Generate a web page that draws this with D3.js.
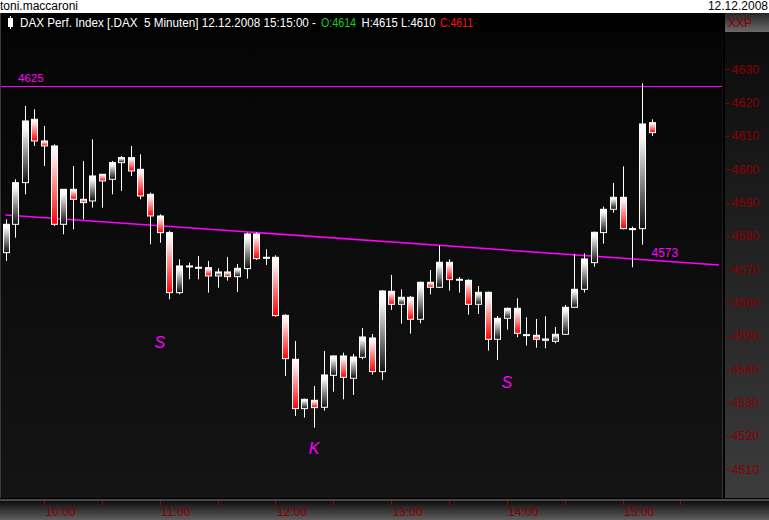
<!DOCTYPE html>
<html>
<head>
<meta charset="utf-8">
<script src="https://cdn.jsdelivr.net/npm/d3@7"></script>
<style>
  html, body { margin: 0; padding: 0; background: #fff; }
  svg { display: block; }
  text { font-family: "Liberation Sans", Arial, sans-serif; }
</style>
</head>
<body>
<svg id="chart" width="769" height="520"></svg>
<script>
// ---------------- DATA ----------------
const startTime = "09:40";          // first 5-minute candle
const stepMinutes = 5;
const opens  = [4575,4583.5,4596,4615,4608.5,4607,4583.5,4594,4591,4590.5,4598.5,4597,4602,4603.5,4600,4592.5,4586,4581,4563,4571,
                4570.6,4570.5,4568,4569.2,4567.8,4570.2,4580.6,4573.4,4573.6,4556.2,4543,4528.2,4530.7,4528.6,4538.2,4544,4537.3,4543.6,4549.4,4539.3,
                4563.4,4559.5,4561.6,4555,4566.1,4564.6,4572.1,4567,4566.7,4559.5,4563.1,4549,4555.3,4558.3,4550.4,4550.2,4549.1,4548.4,4550.5,4558.6,
                4564,4572,4581,4588,4591.6,4582.2,4582.2,4614];
const highs  = [4585,4597,4619,4618,4613,4607.5,4594,4601,4602.5,4609,4598.5,4602.5,4604,4607,4604.5,4593,4586.5,4581.5,4573,4572,
                4574,4572.5,4570.3,4573.7,4571.6,4581,4581.1,4576,4574.2,4556.5,4548.5,4531.2,4535,4545.5,4544.2,4545,4544.6,4552.4,4550.6,4563.8,
                4568.3,4564,4562,4566.3,4569.8,4577.1,4573,4567.7,4567,4565,4563.3,4556,4558.5,4561.3,4555.6,4555.1,4555.9,4552.7,4559.3,4574.5,
                4574.8,4581.3,4588.8,4595.9,4600.9,4582.8,4625.8,4615];
const lows   = [4572.5,4579.5,4592.5,4607,4601,4583,4580.5,4582,4585,4588.5,4588.5,4592.5,4593.5,4598,4591,4577.5,4578,4561,4562.5,4567,
                4567,4563,4564.5,4566.6,4563.2,4567.2,4572.8,4571.3,4555.8,4538,4526,4525.5,4522.5,4527.6,4533.3,4531,4532.3,4543,4538.4,4536.8,
                4557.8,4553.7,4550.7,4553.8,4562.5,4564.4,4563.6,4563,4556.4,4556.6,4545.6,4542.8,4551.9,4549.6,4547.1,4546.5,4546.3,4547.8,4550.3,4558.4,
                4563,4570.8,4577.7,4587,4582,4570.6,4577.4,4610];
const closes = [4583.5,4596,4614.5,4608.5,4607,4583.5,4594,4591,4590,4598,4596.5,4602,4603.5,4599.5,4592,4586,4581,4563,4571,4570.7,
                4570.4,4568,4569.2,4567.8,4570.3,4580.6,4573.2,4573.6,4556.1,4543.2,4528.2,4531,4528.5,4538.3,4544,4537.6,4543.7,4549.7,4539.3,4563.5,
                4559.5,4561.6,4555,4566.1,4564.6,4572.1,4566.9,4566.8,4559.5,4563.1,4549,4555.3,4558.3,4550.8,4550.2,4549,4548.7,4550.5,4558.6,4564,
                4573.1,4581.1,4588,4591.6,4582.2,4582,4613.6,4611];

const yTicks = [4510,4520,4530,4540,4550,4560,4570,4580,4590,4600,4610,4620,4630];
const xTickTimes = ["10:00","10:30","11:00","11:30","12:00","12:30","13:00","13:30","14:00","14:30","15:00","15:30"];
const xLabelTimes = ["10:00","11:00","12:00","13:00","14:00","15:00"];

const hLineValue = 4625;
const trendTimes = ["09:40","15:50"];
const trendValues = [4586.3,4571.3];
const trendLabel = "4573";
const trendLabelTime = "15:15";

const annotations = [
  {text:"S", time:"11:00", value:4546.4},
  {text:"K", time:"12:20", value:4514.6},
  {text:"S", time:"14:00", value:4534.4}
];

const header = {
  user: "toni.maccaroni",
  date: "12.12.2008",
  title: "DAX Perf. Index [.DAX  5 Minuten] 12.12.2008 15:15:00 -",
  o: "O:4614", h: "H:4615 L:4610", c: "C:4611"
};

// ---------------- SETUP ----------------
const W = 769, H = 520;
const plotL = 1, plotR = 722, plotT = 32, plotB = 498;
const svg = d3.select("#chart");
const defs = svg.append("defs");

const parseT = d3.timeParse("%H:%M");
const t0 = parseT(startTime);
const times = opens.map((_, i) => d3.timeMinute.offset(t0, i * stepMinutes));
const candles = opens.map((o, i) => ({t: times[i], o, h: highs[i], l: lows[i], c: closes[i]}));

const x = d3.scaleTime().domain([times[0], times[times.length - 1]]).range([5.5, 651.5]);
const y = d3.scaleLinear().domain([4630, 4510]).range([69.3, 469.3]);

function lin(id, stops) {
  const g = defs.append("linearGradient").attr("id", id)
    .attr("x1", 0).attr("y1", 0).attr("x2", 0).attr("y2", 1);
  stops.forEach(([o, c]) => g.append("stop").attr("offset", o).attr("stop-color", c));
}
lin("gPlot", [[0, "#050505"], [1, "#141414"]]);
lin("gRight", [[0, "#0b0b0b"], [0.5, "#232323"], [1, "#3c3c3c"]]);
lin("gBottom", [[0, "#0e0e0e"], [1, "#5e5e5e"]]);
lin("gXXP", [[0, "#262626"], [1, "#6a6a6a"]]);
lin("gUp", [[0, "#ffffff"], [0.15, "#f4f4f0"], [1, "#101010"]]);
lin("gDown", [[0, "#ffffff"], [0.15, "#ffe8e8"], [1, "#ff0000"]]);

const clip = defs.append("clipPath").attr("id", "plotClip");
clip.append("rect").attr("x", plotL).attr("y", plotT).attr("width", plotR - plotL).attr("height", plotB - plotT);

// ---------------- BACKGROUNDS ----------------
svg.append("rect").attr("x", 0).attr("y", 0).attr("width", W).attr("height", H).attr("fill", "#fff");
svg.append("rect").attr("x", 0).attr("y", 13).attr("width", W).attr("height", 20).attr("fill", "#000");
svg.append("rect").attr("x", 0).attr("y", plotT).attr("width", plotR).attr("height", plotB - plotT).attr("fill", "url(#gPlot)");
svg.append("line").attr("x1", 0.5).attr("x2", 0.5).attr("y1", 13).attr("y2", plotB).attr("stroke", "#3a3a3a");
// right axis panel
svg.append("rect").attr("x", plotR).attr("y", plotT).attr("width", W - plotR).attr("height", plotB - plotT + 2).attr("fill", "url(#gRight)");
svg.append("rect").attr("x", plotR + 1).attr("y", 13).attr("width", 2).attr("height", plotB - 13).attr("fill", "#000");
// bottom strip
svg.append("rect").attr("x", 0).attr("y", plotB).attr("width", W).attr("height", 1.5).attr("fill", "#000");
svg.append("rect").attr("x", 0).attr("y", plotB + 1).attr("width", W).attr("height", 2).attr("fill", "#4a4a4a");
svg.append("rect").attr("x", 0).attr("y", plotB + 3).attr("width", W).attr("height", H - plotB - 3).attr("fill", "url(#gBottom)");
// XXP box
svg.append("rect").attr("x", plotR + 3).attr("y", 13).attr("width", W - plotR - 3).attr("height", 19).attr("fill", "url(#gXXP)");
svg.append("text").attr("x", 728).attr("y", 27).attr("fill", "#8a0000").attr("font-size", 12).text("XXP");

// ---------------- HEADER ----------------
svg.append("text").attr("x", 0).attr("y", 10).attr("font-size", 12).attr("fill", "#000").text(header.user);
svg.append("text").attr("x", 768).attr("y", 10).attr("text-anchor", "end").attr("font-size", 12).attr("fill", "#000").text(header.date);
// small candle icon
svg.append("line").attr("x1", 10.5).attr("x2", 10.5).attr("y1", 16).attr("y2", 29).attr("stroke", "#fff");
svg.append("rect").attr("x", 8).attr("y", 18).attr("width", 5).attr("height", 9).attr("fill", "#fff");
function headText(str, x0, len, col) {
  svg.append("text").attr("x", x0).attr("y", 27).attr("font-size", 12).attr("fill", col)
    .attr("textLength", len).attr("lengthAdjust", "spacingAndGlyphs")
    .attr("xml:space", "preserve").style("white-space", "pre").text(str);
}
headText(header.title, 20, 296, "#fff");
headText(header.o, 321, 35, "#1ec81e");
headText(header.h, 361.5, 74, "#fff");
headText(header.c, 440, 33, "#ff1010");

// ---------------- AXES ----------------
const yAx = svg.append("g");
yTicks.forEach(v => {
  yAx.append("line").attr("x1", plotR + 3.5).attr("x2", plotR + 7.5).attr("y1", Math.round(y(v)) + 0.5).attr("y2", Math.round(y(v)) + 0.5)
    .attr("stroke", "#8a0000");
  yAx.append("text").attr("x", plotR + 9.5).attr("y", y(v) + 4.5).attr("font-size", 12.5).attr("fill", "#8a0000").text(v);
});
const xAx = svg.append("g");
xTickTimes.forEach(s => {
  const xx = Math.round(x(parseT(s))) + 0.5;
  xAx.append("line").attr("x1", xx).attr("x2", xx).attr("y1", plotB + 3).attr("y2", plotB + 7).attr("stroke", "#a00000");
});
xLabelTimes.forEach(s => {
  xAx.append("text").attr("x", x(parseT(s)) + 1.5).attr("y", 516).attr("font-size", 12).attr("fill", "#8a0000").text(s);
});

// ---------------- PLOT CONTENT ----------------
const plot = svg.append("g").attr("clip-path", "url(#plotClip)");

// horizontal line 4625
plot.append("line").attr("x1", plotL).attr("x2", plotR).attr("y1", Math.round(y(hLineValue)) + 0.5).attr("y2", Math.round(y(hLineValue)) + 0.5)
  .attr("stroke", "#ff00ff").attr("stroke-width", 1);
plot.append("text").attr("x", 18).attr("y", 82).attr("font-size", 11.5).attr("fill", "#ff00ff").text(hLineValue);

// trend line
const tl = d3.line().x((d, i) => x(parseT(trendTimes[i]))).y(d => y(d));
plot.append("path").attr("d", tl(trendValues)).attr("stroke", "#ff00ff").attr("stroke-width", 1.6).attr("fill", "none");
plot.append("text").attr("x", x(parseT(trendLabelTime))).attr("y", 257).attr("font-size", 12).attr("fill", "#ff00ff").text(trendLabel);

// candles
const cg = plot.selectAll("g.candle").data(candles).join("g").attr("class", "candle");
cg.append("line")
  .attr("x1", d => Math.round(x(d.t)) + 0.5).attr("x2", d => Math.round(x(d.t)) + 0.5)
  .attr("y1", d => y(d.h)).attr("y2", d => y(d.l))
  .attr("stroke", "#fff").attr("stroke-width", 1);
cg.append("rect")
  .attr("x", d => Math.round(x(d.t)) - 2.5)
  .attr("y", d => y(Math.max(d.o, d.c)))
  .attr("width", 6)
  .attr("height", d => Math.max(1, Math.abs(y(d.o) - y(d.c))))
  .attr("fill", d => d.c >= d.o ? "url(#gUp)" : "url(#gDown)")
  .attr("stroke", "#fff").attr("stroke-width", 1);

// annotations
plot.selectAll("text.ann").data(annotations).join("text").attr("class", "ann")
  .attr("x", d => x(parseT(d.time)))
  .attr("y", d => y(d.value))
  .attr("text-anchor", "middle")
  .attr("font-family", "DejaVu Sans, sans-serif")
  .attr("font-style", "italic")
  .attr("font-size", 16)
  .attr("fill", "#ff00ff")
  .text(d => d.text);
</script>
</body>
</html>
